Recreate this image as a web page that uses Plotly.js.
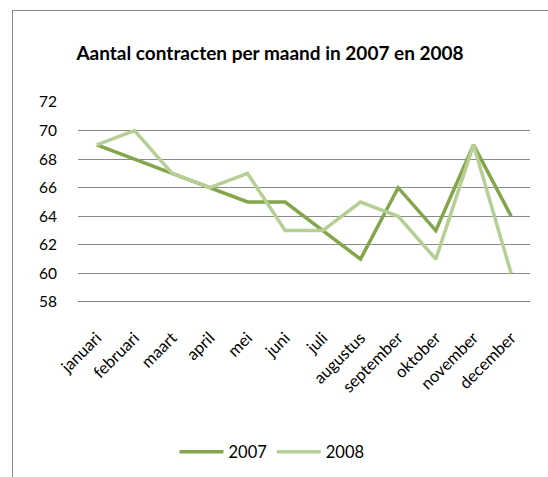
<!DOCTYPE html>
<html>
<head>
<meta charset="utf-8">
<script src="https://cdn.plot.ly/plotly-3.0.1.min.js"></script>
<style>
html,body{margin:0;padding:0;background:#fff;}
#wrap{position:relative;width:548px;height:477px;overflow:hidden;}
#chart{position:absolute;left:0;top:0;width:548px;height:477px;}
#frame{position:absolute;left:12px;top:10px;width:600px;height:600px;border-left:1.5px solid #8a8a8a;border-top:1.5px solid #8a8a8a;pointer-events:none;}
</style>
</head>
<body>
<div id="wrap">
<div id="chart"></div>
<div id="frame"></div>
</div>
<script>
const months = ['januari','februari','maart','april','mei','juni','juli','augustus','september','oktober','november','december'];
const values2007 = [69,68,67,66,65,65,63,61,66,63,69,64];
const values2008 = [69,70,67,66,67,63,63,65,64,61,69,60];
const yTicks = [58,60,62,64,66,68,70,72];

const FONT = 'Lato, "Open Sans", sans-serif';
const data = [
  {x: months, y: values2007, type:'scatter', mode:'lines', name:'2007',
   line:{color:'#84A64B', width:3.5}},
  {x: months, y: values2008, type:'scatter', mode:'lines', name:'2008',
   line:{color:'#B6CF95', width:3.5}}
];
const layout = {
  width:548, height:477,
  margin:{l:78, r:18, t:102, b:175},
  paper_bgcolor:'rgba(0,0,0,0)', plot_bgcolor:'rgba(0,0,0,0)',
  font:{family:FONT, size:15.5, color:'#000'},
  title:{text:'<b>Aantal contracten per maand in 2007 en 2008</b>',
    font:{family:FONT, size:19, color:'#000'},
    xref:'container', yref:'container', x:270/548, y:1-53/477, xanchor:'center', yanchor:'middle'},
  xaxis:{type:'category', range:[-0.5, 11.5], automargin:false, tickangle:-45, showgrid:false, zeroline:false,
    showline:false, ticks:'', ticklabelstandoff:22, tickfont:{size:16.5}},
  yaxis:{range:[58,72], automargin:false, tickvals:yTicks, showgrid:true, gridcolor:'#8a8a8a', gridwidth:1,
    zeroline:false, showline:false, ticks:'', ticklabelstandoff:20, tickfont:{size:15.5}},
  shapes:[{type:'line', xref:'paper', yref:'y', x0:0, x1:1, y0:58, y1:58,
    line:{color:'#808080', width:1.8}}],
  showlegend:true,
  legend:{orientation:'h', xref:'container', yref:'container', x:272/548, y:1-452/477,
    xanchor:'center', yanchor:'middle', font:{size:16.5}, itemwidth:44, bgcolor:'rgba(0,0,0,0)'}
};
Plotly.newPlot('chart', data, layout, {displayModeBar:false, staticPlot:true});
</script>
</body>
</html>
